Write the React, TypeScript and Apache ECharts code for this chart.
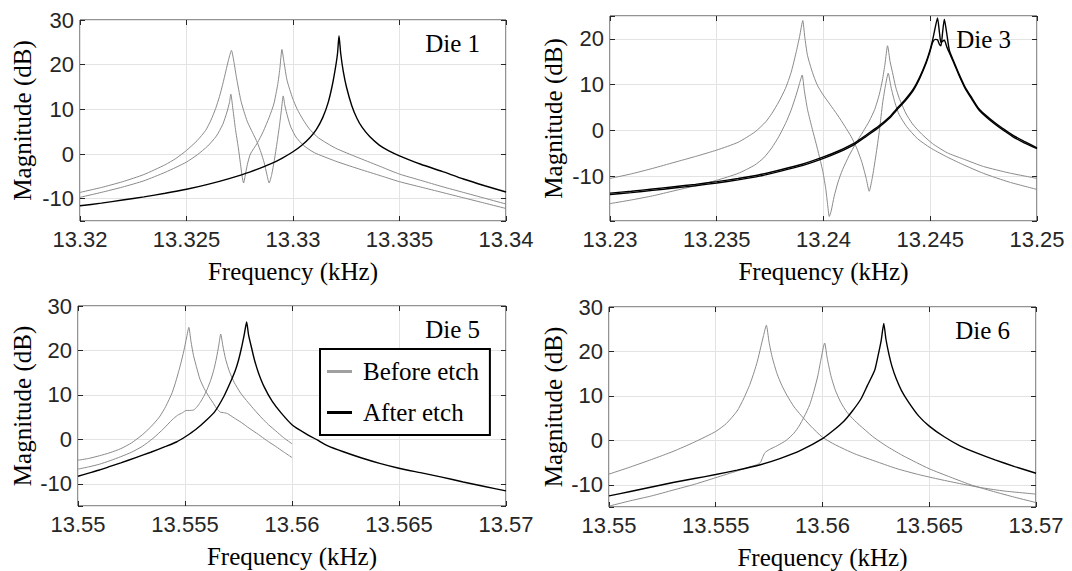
import React, { useEffect, useRef } from "react";
import * as echarts from "echarts";

// ---------------- Data (frequency kHz, magnitude dB) ----------------
const die1BeforeA: [number, number][] = [
  [13.32, -8.6], [13.321, -7.5], [13.322, -6.2], [13.323, -4.6], [13.324, -2.4], [13.3245, -1.0],
  [13.325, 0.8], [13.3255, 3.0], [13.3259, 5.3], [13.32615, 7.6], [13.32637, 10.2], [13.32655, 12.9],
  [13.3267, 15.6], [13.32685, 18.6], [13.32698, 21.2], [13.32711, 23.2], [13.32722, 20.8],
  [13.32735, 17.0], [13.32755, 12.0], [13.3277, 9.5], [13.32786, 7.2], [13.3281, 4.8], [13.32833, 2.5],
  [13.3285, 0.3], [13.32865, -2.0], [13.32877, -4.5], [13.32888, -6.5], [13.329, -4.6], [13.32912, -1.5],
  [13.32925, 2.5], [13.32936, 6.2], [13.32946, 10.0], [13.32954, 13.0], [13.32962, 10.8],
  [13.32975, 8.3], [13.3299, 6.0], [13.33014, 3.8], [13.3305, 1.9], [13.331, 0.3], [13.332, -1.6],
  [13.333, -3.2], [13.334, -4.7], [13.335, -6.2], [13.336, -7.4], [13.337, -8.6], [13.338, -9.8],
  [13.339, -11.0], [13.34, -12.2],
];
const die1BeforeB: [number, number][] = [
  [13.32, -9.7], [13.321, -8.6], [13.322, -7.4], [13.323, -6.0], [13.324, -4.1], [13.3245, -3.0],
  [13.325, -1.8], [13.3255, -0.2], [13.326, 1.8], [13.3264, 4.0], [13.3267, 6.6], [13.3269, 9.4],
  [13.32702, 11.6], [13.32708, 13.4], [13.32718, 10.0], [13.3273, 5.5], [13.32743, 1.5], [13.32755, -2.8],
  [13.32762, -5.3], [13.32768, -6.5], [13.32775, -5.0], [13.32786, -2.3], [13.328, 0.0],
  [13.32833, 2.5], [13.3286, 5.0], [13.32888, 8.2], [13.3291, 11.2], [13.32928, 15.5],
  [13.32938, 19.0], [13.32948, 23.4], [13.32958, 20.5], [13.32972, 16.5], [13.32998, 12.5],
  [13.3302, 10.0], [13.33046, 7.8], [13.33077, 5.6], [13.3312, 3.6], [13.332, 1.3], [13.333, -0.7],
  [13.334, -2.6], [13.335, -4.5], [13.336, -5.9], [13.337, -7.3], [13.338, -8.6], [13.339, -9.9],
  [13.34, -11.2],
];
const die1After: [number, number][] = [
  [13.32, -11.6], [13.321, -11.0], [13.322, -10.3], [13.323, -9.6], [13.324, -8.8], [13.325, -7.9],
  [13.326, -6.8], [13.327, -5.5], [13.328, -4.0], [13.329, -2.1], [13.3295, -0.9], [13.33, 0.5],
  [13.3304, 1.9], [13.3308, 3.7], [13.3311, 5.5], [13.3314, 8.2], [13.33165, 11.5], [13.33185, 15.5],
  [13.332, 19.5], [13.33209, 22.5], [13.33216, 26.5], [13.33224, 22.5], [13.33236, 18.5],
  [13.33251, 15.0], [13.33276, 10.8], [13.333, 8.0], [13.33324, 6.0], [13.3336, 3.9], [13.33405, 2.0],
  [13.3345, 0.7], [13.335, -0.4], [13.336, -2.3], [13.337, -3.9], [13.338, -5.6], [13.339, -7.1],
  [13.34, -8.5],
];

const die3BeforeA: [number, number][] = [
  [13.23, -10.5], [13.231, -9.5], [13.232, -8.3], [13.233, -7.0], [13.234, -5.7], [13.235, -4.3],
  [13.236, -2.6], [13.2368, -0.3], [13.2373, 1.9], [13.23758, 3.7], [13.2379, 6.2], [13.23822, 9.2],
  [13.23848, 12.6], [13.23871, 16.9], [13.23888, 20.5], [13.23903, 24.0], [13.23912, 20.5],
  [13.23925, 16.4], [13.23948, 12.7], [13.2397, 10.0], [13.23995, 8.0], [13.2403, 5.7],
  [13.24065, 3.4], [13.241, 0.9], [13.2413, -1.4], [13.24155, -3.8], [13.2418, -7.0], [13.242, -10.5],
  [13.24214, -13.3], [13.24228, -10.5], [13.24245, -5.6], [13.24262, 0.0], [13.24277, 6.0],
  [13.24291, 10.0], [13.24303, 12.5], [13.24316, 9.5], [13.24335, 6.0], [13.24355, 3.4],
  [13.2439, 0.8], [13.2444, -1.8], [13.245, -3.8], [13.2457, -5.6], [13.2465, -7.4], [13.2475, -9.4],
  [13.2487, -11.3], [13.25, -12.9],
];
const die3BeforeB: [number, number][] = [
  [13.23, -16.0], [13.231, -15.2], [13.232, -14.3], [13.233, -13.2], [13.234, -12.1], [13.235, -10.9],
  [13.236, -9.4], [13.23677, -7.6], [13.2372, -6.0], [13.23758, -3.8], [13.2379, -1.4],
  [13.23822, 1.5], [13.23848, 4.4], [13.23871, 7.6], [13.23888, 10.3], [13.239, 12.1], [13.2391, 8.8],
  [13.23925, 4.6], [13.23948, 0.2], [13.23965, -2.8], [13.2398, -5.6], [13.23997, -9.0],
  [13.24011, -12.9], [13.2402, -16.5], [13.24027, -18.8], [13.24036, -17.6], [13.2405, -14.4],
  [13.24068, -11.3], [13.24089, -8.6], [13.2412, -5.5], [13.24152, -2.8], [13.24185, -0.3],
  [13.24214, 2.0], [13.2424, 4.6], [13.24261, 7.8], [13.24276, 11.0], [13.24288, 14.5], [13.243, 18.5],
  [13.24312, 15.0], [13.24323, 12.7], [13.24338, 9.5], [13.24355, 7.0], [13.24385, 3.8],
  [13.24417, 1.4], [13.2446, -0.8], [13.24511, -2.9], [13.2458, -4.9], [13.24652, -6.2],
  [13.2475, -7.9], [13.2487, -9.3], [13.25, -10.5],
];
const die3AfterA: [number, number][] = [
  [13.23, -13.7], [13.231, -13.3], [13.232, -12.8], [13.233, -12.3], [13.234, -11.8], [13.235, -11.2],
  [13.236, -10.5], [13.237, -9.7], [13.238, -8.6], [13.239, -7.4], [13.24, -5.8], [13.2407, -4.5],
  [13.2414, -2.9], [13.242, -1.0], [13.2426, 1.0], [13.2431, 3.0], [13.2434, 4.6], [13.2438, 6.6],
  [13.2442, 9.0], [13.2445, 11.6], [13.2448, 14.9], [13.24498, 17.4], [13.24511, 19.7],
  [13.24523, 22.4], [13.24534, 24.6], [13.24543, 21.4], [13.2455, 19.2], [13.24558, 19.5],
  [13.24566, 19.7], [13.24578, 18.2], [13.2459, 16.9], [13.2461, 14.8], [13.24635, 12.0],
  [13.24662, 9.3], [13.24695, 6.8], [13.24727, 4.5], [13.2477, 2.6], [13.24808, 1.2], [13.2485, -0.2],
  [13.24888, -1.4], [13.2494, -2.7], [13.25, -4.0],
];
const die3AfterB: [number, number][] = [
  [13.23, -14.0], [13.231, -13.6], [13.232, -13.1], [13.233, -12.6], [13.234, -12.1], [13.235, -11.5],
  [13.236, -10.8], [13.237, -10.0], [13.238, -8.9], [13.239, -7.7], [13.24, -6.1], [13.2407, -4.8],
  [13.2414, -3.2], [13.242, -1.3], [13.2426, 0.7], [13.2431, 2.7], [13.2434, 4.3], [13.2438, 6.3],
  [13.2442, 8.7], [13.2445, 11.3], [13.2448, 14.6], [13.24498, 17.1], [13.24511, 19.2],
  [13.24523, 19.9], [13.24534, 19.8], [13.24543, 18.8], [13.2455, 18.5], [13.24558, 21.5],
  [13.24566, 24.3], [13.24576, 21.6], [13.2459, 17.4], [13.2461, 15.1], [13.24635, 12.3],
  [13.24662, 9.6], [13.24695, 7.1], [13.24727, 4.8], [13.2477, 2.9], [13.24808, 1.5], [13.2485, 0.1],
  [13.24888, -1.1], [13.2494, -2.4], [13.25, -3.8],
];

const die5BeforeA: [number, number][] = [
  [13.55, -4.7], [13.5505, -4.3], [13.551, -3.7], [13.5515, -3.0], [13.552, -2.1], [13.5525, -0.8],
  [13.553, 1.0], [13.5534, 2.8], [13.5538, 5.0], [13.5541, 7.4], [13.5544, 10.5], [13.5546, 13.5],
  [13.5548, 17.0], [13.55495, 20.0], [13.55507, 22.8], [13.55518, 25.2], [13.55528, 22.0],
  [13.5554, 18.8], [13.55553, 16.4], [13.5557, 13.5], [13.5559, 11.4], [13.55612, 9.6],
  [13.55634, 8.0], [13.5565, 6.8], [13.55666, 6.1], [13.5568, 6.0], [13.55698, 5.8], [13.5573, 4.8],
  [13.55763, 3.8], [13.558, 2.5], [13.55843, 1.1], [13.5588, -0.2], [13.55924, -1.6], [13.5596, -2.8],
  [13.56, -4.1],
];
const die5BeforeB: [number, number][] = [
  [13.55, -6.7], [13.5505, -6.2], [13.551, -5.6], [13.5515, -4.8], [13.552, -3.9], [13.5525, -2.9],
  [13.553, -1.6], [13.5535, 0.2], [13.554, 2.4], [13.5544, 4.4], [13.55465, 5.4], [13.55489, 6.0],
  [13.55505, 6.5], [13.5552, 6.5], [13.5554, 6.6], [13.55556, 7.3], [13.55571, 8.3], [13.55587, 9.6],
  [13.55603, 11.2], [13.5562, 13.3], [13.55635, 15.7], [13.55647, 18.3], [13.55658, 21.2],
  [13.55667, 23.7], [13.55677, 21.0], [13.5569, 18.0], [13.55708, 15.2], [13.5573, 12.8],
  [13.5576, 10.4], [13.55795, 8.3], [13.55825, 6.6], [13.55859, 4.8], [13.5589, 3.3], [13.55924, 1.9],
  [13.5596, 0.4], [13.56, -1.0],
];
const die5After: [number, number][] = [
  [13.55, -8.3], [13.5505, -7.6], [13.551, -6.9], [13.5515, -6.1], [13.552, -5.3], [13.5527, -4.1],
  [13.5534, -2.9], [13.5541, -1.6], [13.5546, -0.6], [13.55505, 0.7], [13.5555, 2.2], [13.55602, 4.4],
  [13.5564, 6.3], [13.55682, 9.7], [13.5571, 12.6], [13.55735, 15.5], [13.5575, 17.8], [13.55764, 20.6],
  [13.55777, 23.6], [13.55788, 26.4], [13.55797, 23.5], [13.55811, 20.6], [13.55825, 17.8],
  [13.55843, 15.0], [13.5587, 11.8], [13.55907, 8.6], [13.5595, 5.9], [13.56004, 3.1], [13.5606, 1.4],
  [13.5612, -0.2], [13.56165, -1.4], [13.5624, -2.8], [13.56326, -4.2], [13.5641, -5.4], [13.565, -6.5],
  [13.566, -7.5], [13.567, -8.5], [13.568, -9.6], [13.569, -10.6], [13.57, -11.6],
];

const die6BeforeA: [number, number][] = [
  [13.55, -7.6], [13.551, -6.0], [13.552, -4.3], [13.553, -2.5], [13.554, -0.4], [13.555, 2.0],
  [13.5555, 3.8], [13.556, 6.6], [13.5563, 9.3], [13.5566, 12.6], [13.5568, 15.4], [13.55695, 17.8],
  [13.5571, 20.8], [13.55724, 23.6], [13.55737, 25.9], [13.5575, 22.0], [13.55765, 18.6],
  [13.55787, 15.0], [13.5581, 12.3], [13.55835, 10.0], [13.55866, 7.6], [13.559, 5.6], [13.55945, 3.2],
  [13.56, 0.7], [13.5606, -1.0], [13.56149, -3.0], [13.56259, -4.9], [13.5635, -6.4], [13.5645, -7.7],
  [13.5655, -8.8], [13.5665, -9.8], [13.5675, -10.7], [13.5685, -11.4], [13.57, -12.1],
];
const die6BeforeB: [number, number][] = [
  [13.55, -14.8], [13.551, -13.6], [13.552, -12.5], [13.553, -11.2], [13.554, -9.9], [13.555, -8.4],
  [13.556, -6.9], [13.5565, -6.1], [13.55692, -5.5], [13.55709, -5.0], [13.5572, -3.8],
  [13.5573, -2.8], [13.5575, -2.1], [13.55788, -1.2], [13.5583, 0.0], [13.55866, 1.6], [13.5589, 3.2],
  [13.55914, 5.3], [13.5594, 8.0], [13.55961, 11.3], [13.55978, 14.5], [13.55992, 18.0],
  [13.5601, 21.9], [13.56022, 18.5], [13.56039, 14.6], [13.5606, 11.3], [13.56086, 8.5],
  [13.56115, 6.3], [13.56149, 4.5], [13.562, 2.3], [13.56242, 0.6], [13.563, -1.3], [13.56371, -3.3],
  [13.5644, -5.0], [13.565, -6.4], [13.566, -8.3], [13.567, -10.1], [13.568, -11.5], [13.569, -12.8],
  [13.57, -14.0],
];
const die6After: [number, number][] = [
  [13.55, -12.5], [13.551, -11.5], [13.552, -10.5], [13.553, -9.5], [13.554, -8.6], [13.555, -7.7],
  [13.556, -6.7], [13.557, -5.6], [13.558, -4.1], [13.559, -2.2], [13.56, 0.4], [13.5605, 2.2],
  [13.561, 4.3], [13.5614, 6.6], [13.5618, 9.3], [13.5621, 12.3], [13.56244, 15.7], [13.5626, 19.0],
  [13.56275, 22.5], [13.56287, 26.3], [13.56297, 22.8], [13.56311, 19.4], [13.56325, 16.7],
  [13.56345, 13.9], [13.5637, 11.2], [13.56403, 8.6], [13.5645, 5.5], [13.565, 3.2], [13.5657, 0.8],
  [13.56646, -1.3], [13.5673, -3.0], [13.56808, -4.4], [13.569, -5.9], [13.57, -7.4],
];

const panelTitles = ["Die 1", "Die 3", "Die 5", "Die 6"];
const xRanges: [number, number][] = [[13.32, 13.34], [13.23, 13.25], [13.55, 13.57], [13.55, 13.57]];
const yRanges: [number, number][] = [[-15, 30], [-19.8, 25], [-15, 30], [-15, 30]];
const beforeSets = [[die1BeforeA, die1BeforeB], [die3BeforeA, die3BeforeB], [die5BeforeA, die5BeforeB], [die6BeforeA, die6BeforeB]];
const afterSets = [[die1After], [die3AfterA, die3AfterB], [die5After], [die6After]];
const legendNames = ["Before etch", "After etch"];
const xAxisTitle = "Frequency (kHz)";
const yAxisTitle = "Magnitude (dB)";

// ---------------- Layout ----------------
const grids = [
  { left: 80, top: 20, width: 426, height: 201 },
  { left: 610, top: 16, width: 427, height: 205 },
  { left: 78, top: 306, width: 428, height: 200 },
  { left: 609, top: 307, width: 427, height: 200 },
];
const yTitleX = [22, 553, 22, 553];

const TICK_FONT = "Liberation Sans";
const SERIF = "Liberation Serif";

export default function App() {
  const ref = useRef<HTMLDivElement>(null);

  useEffect(() => {
    if (!ref.current) return;
    const chart = echarts.init(ref.current, undefined, { renderer: "svg" });

    const fmtX = (v: number) => String(parseFloat(v.toFixed(4)));
    const fmtY = (v: number) => (Math.abs(v - Math.round(v / 10) * 10) < 1e-6 ? String(Math.round(v)) : "");
    const tickStyle = { show: true, inside: true, length: 5, lineStyle: { color: "#262626" } };
    const noLine = { show: false, onZero: false };

    const xAxis: any[] = [];
    const yAxis: any[] = [];
    // primary axes (bottom / left)
    grids.forEach((_, i) => {
      xAxis.push({
        type: "value",
        gridIndex: i,
        position: "bottom",
        min: xRanges[i][0],
        max: xRanges[i][1],
        interval: 0.005,
        axisLine: noLine,
        axisTick: tickStyle,
        axisLabel: { fontFamily: TICK_FONT, fontSize: 22, color: "#262626", margin: 7, formatter: fmtX },
        splitLine: { show: true, lineStyle: { color: "#e3e3e3", width: 1 } },
      });
      yAxis.push({
        type: "value",
        gridIndex: i,
        position: "left",
        min: yRanges[i][0],
        max: yRanges[i][1],
        splitNumber: 5,
        axisLine: noLine,
        axisTick: tickStyle,
        axisLabel: { fontFamily: TICK_FONT, fontSize: 22, color: "#262626", margin: 6, formatter: fmtY },
        splitLine: { show: true, lineStyle: { color: "#e3e3e3", width: 1 } },
      });
    });
    // mirrored tick axes (top / right), as in a boxed plot
    grids.forEach((_, i) => {
      xAxis.push({
        type: "value",
        gridIndex: i,
        position: "top",
        min: xRanges[i][0],
        max: xRanges[i][1],
        interval: 0.005,
        axisLine: noLine,
        axisTick: tickStyle,
        axisLabel: { show: false },
        splitLine: { show: false },
      });
      yAxis.push({
        type: "value",
        gridIndex: i,
        position: "right",
        min: yRanges[i][0],
        max: yRanges[i][1],
        splitNumber: 5,
        axisLine: noLine,
        axisTick: tickStyle,
        axisLabel: { show: false },
        splitLine: { show: false },
      });
    });

    const series: any[] = [];
    beforeSets.forEach((set, i) => {
      set.forEach((d) => {
        series.push({
          type: "line",
          name: legendNames[0],
          xAxisIndex: i,
          yAxisIndex: i,
          data: d,
          symbol: "none",
          showSymbol: false,
          smooth: 0.2,
          lineStyle: { color: "#8a8a8a", width: 1 },
          z: 2,
        });
      });
    });
    afterSets.forEach((set, i) => {
      set.forEach((d) => {
        series.push({
          type: "line",
          name: legendNames[1],
          xAxisIndex: i,
          yAxisIndex: i,
          data: d,
          symbol: "none",
          showSymbol: false,
          smooth: 0.2,
          lineStyle: { color: "#000000", width: 1.4 },
          z: 3,
        });
      });
    });

    const title = grids.map((g, i) => ({
      text: panelTitles[i],
      right: 1072 - (g.left + g.width) + 26,
      top: g.top + 11,
      padding: 0,
      textStyle: { fontFamily: SERIF, fontSize: 25, fontWeight: "normal", color: "#000" },
    }));

    const graphic: any[] = [];
    const nameFont = '25px "Liberation Serif", "Times New Roman", serif';
    grids.forEach((g, i) => {
      graphic.push({
        type: "text",
        x: g.left + g.width / 2,
        y: g.top + g.height + 50,
        silent: true,
        style: {
          text: xAxisTitle,
          font: nameFont,
          fill: "#000",
          align: "center",
          verticalAlign: "middle",
        },
      });
      graphic.push({
        type: "text",
        x: yTitleX[i],
        y: g.top + g.height / 2,
        rotation: Math.PI / 2,
        silent: true,
        style: {
          text: yAxisTitle,
          font: nameFont,
          fill: "#000",
          align: "center",
          verticalAlign: "middle",
        },
      });
    });

    chart.setOption({
      animation: false,
      backgroundColor: "#ffffff",
      title,
      graphic,
      grid: grids.map((g) => ({ ...g, show: true, borderColor: "#262626", borderWidth: 1, backgroundColor: "transparent" })),
      xAxis,
      yAxis,
      legend: {
        left: 320,
        top: 349,
        orient: "vertical",
        selectedMode: false,
        backgroundColor: "#ffffff",
        borderColor: "#000000",
        borderWidth: 2,
        borderRadius: 0,
        padding: [10, 11, 10, 7],
        itemGap: 16,
        itemWidth: 25,
        itemHeight: 3,
        icon: "rect",
        textStyle: { fontFamily: SERIF, fontSize: 25, color: "#000", padding: [0, 0, 0, 6] },
        data: [
          { name: legendNames[0], icon: "rect", itemStyle: { color: "#a0a0a0", borderWidth: 0 } },
          { name: legendNames[1], icon: "rect", itemStyle: { color: "#000000", borderWidth: 0 } },
        ],
        z: 10,
      },
      series,
    });

    return () => chart.dispose();
  }, []);

  return <div ref={ref} style={{ position: "fixed", left: 0, top: 0, width: 1072, height: 571 }} />;
}
